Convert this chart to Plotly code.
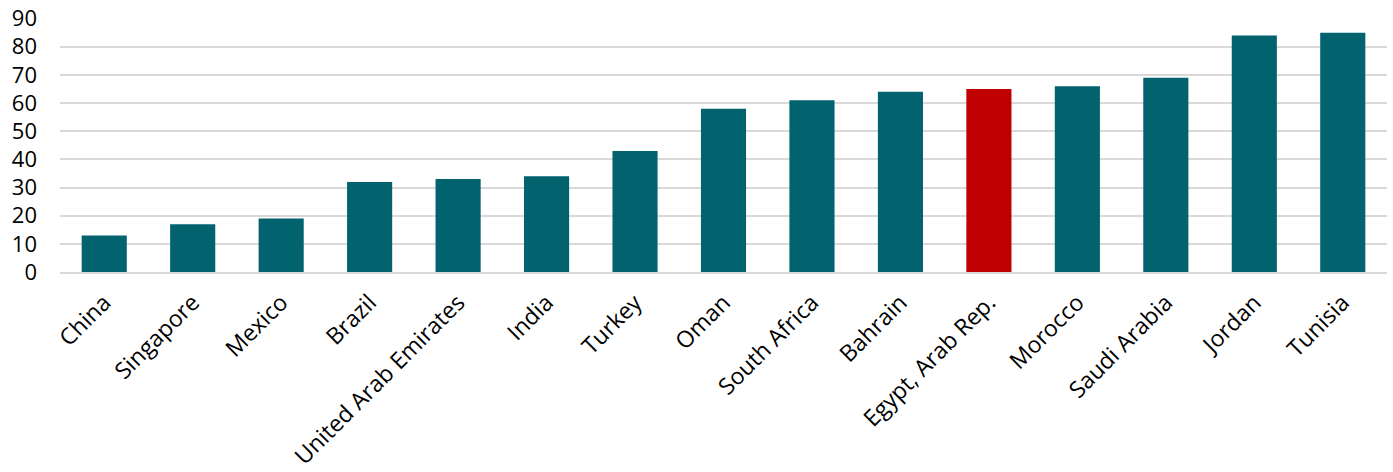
import plotly.graph_objects as go

countries = ["China", "Singapore", "Mexico", "Brazil", "United Arab Emirates", "India", "Turkey",
             "Oman", "South Africa", "Bahrain", "Egypt, Arab Rep.", "Morocco", "Saudi Arabia",
             "Jordan", "Tunisia"]
values = [13, 17, 19, 32, 33, 34, 43, 58, 61, 64, 65, 66, 69, 84, 85]
highlight = "Egypt, Arab Rep."

colors = ["#C00000" if c == highlight else "#02636F" for c in countries]

fig = go.Figure(go.Bar(x=countries, y=values, marker=dict(color=colors, line=dict(width=0)),
                       width=0.51))

fig.update_layout(
    width=1393, height=472,
    margin=dict(l=60, r=6, t=18, b=200, autoexpand=False),
    plot_bgcolor="white", paper_bgcolor="white",
    font=dict(family="Open Sans", size=21, color="#000000"),
    showlegend=False,
    bargap=0.49,
)
fig.update_xaxes(tickangle=-45, showgrid=False, showline=True, linecolor="#d9d9d9", linewidth=2,
                 ticks="", tickfont=dict(size=23), automargin=False, ticklabelstandoff=6)
fig.update_yaxes(range=[0, 90.2], tickvals=[0, 10, 20, 30, 40, 50, 60, 70, 80, 90],
                 showgrid=True, gridcolor="#d9d9d9", gridwidth=2,
                 zeroline=False, ticks="", tickfont=dict(size=22), ticklabelstandoff=22,
                 automargin=False, ticklabeloverflow="allow")

fig.write_html("out.html", config={"displayModeBar": False},
               post_script="document.body.style.margin='0';")
